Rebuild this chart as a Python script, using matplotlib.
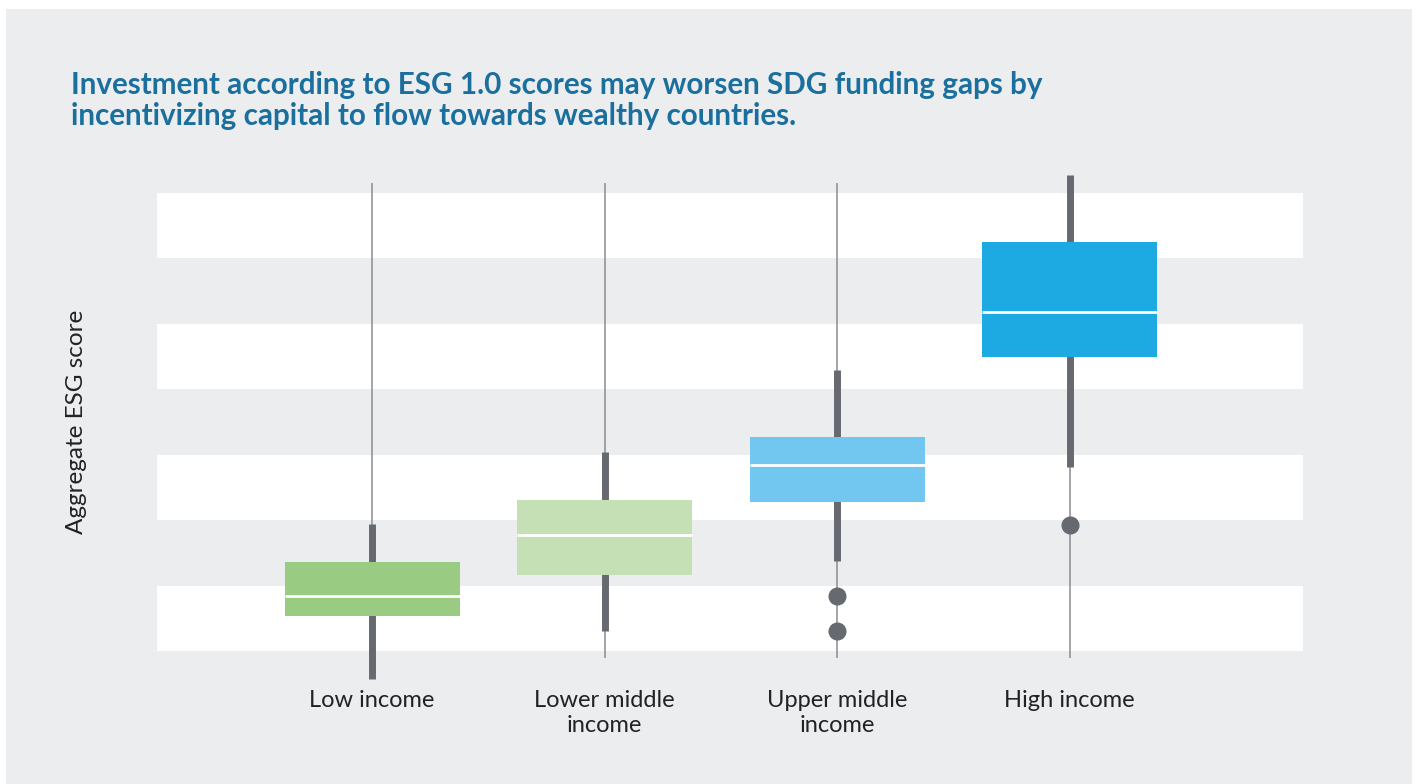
import matplotlib.pyplot as plt
from matplotlib.patches import Rectangle

# === Data (band units) ===
categories = ["Low income", "Lower middle\nincome", "Upper middle\nincome", "High income"]
q1 = [0.54, 1.16, 2.28, 4.49]
median = [0.84, 1.77, 2.84, 5.18]
q3 = [1.36, 2.31, 3.27, 6.25]
whisk_lo = [-0.43, 0.31, 1.38, 2.81]
whisk_hi = [1.94, 3.04, 4.29, 7.27]
range_lo = [-0.11, -0.11, -0.11, -0.11]
range_hi = [7.15, 7.15, 7.15, 7.15]
outlier_cat = [2, 2, 3]
outlier_val = [0.84, 0.31, 1.93]

box_colors = ["#99cc82", "#c5e0b4", "#72c7f0", "#1daae2"]
BG = "#ecedef"
DARK = "#666a70"
THIN = "#8a8d91"
TITLE_C = "#1a6f9d"

fig = plt.figure(figsize=(14.22, 7.84), dpi=100)
fig.patch.set_facecolor("white")
fig.patches.append(Rectangle((6 / 1422, 0), 1406 / 1422, 1 - 9 / 784,
                             transform=fig.transFigure, facecolor=BG,
                             edgecolor="none", zorder=-10))

ax = fig.add_axes([157 / 1422, 1 - 651 / 784, 1146 / 1422, 458 / 784])
ax.set_facecolor(BG)
ax.set_xlim(-0.925, 4.004)
ax.set_ylim(0, 7)

# alternating white bands
for b in range(0, 7, 2):
    ax.axhspan(b, b + 1, color="white", zorder=0, lw=0)

w = 0.753
for i in range(len(categories)):
    ax.plot([i, i], [range_lo[i], range_hi[i]], color=THIN, lw=1.1,
            zorder=2, clip_on=False, solid_capstyle="butt")
    ax.plot([i, i], [whisk_lo[i], whisk_hi[i]], color=DARK, lw=5,
            zorder=3, clip_on=False, solid_capstyle="butt")
    ax.add_patch(Rectangle((i - w / 2, q1[i]), w, q3[i] - q1[i],
                           facecolor=box_colors[i], edgecolor="none",
                           zorder=4, clip_on=False))
    ax.plot([i - w / 2, i + w / 2], [median[i], median[i]], color="white",
            lw=2, zorder=5, solid_capstyle="butt")

ax.plot(outlier_cat, outlier_val, "o", color=DARK, markersize=12,
        zorder=6, clip_on=False)

ax.set_xticks(range(len(categories)))
ax.set_xticklabels(categories, fontsize=17, color="#222222",
                   family="Lato", linespacing=1.24)
ax.tick_params(axis="x", length=0, pad=28)
ax.set_yticks([])
for s in ax.spines.values():
    s.set_visible(False)

ax.set_ylabel("Aggregate ESG score", fontsize=17.5, color="#222222", family="Lato")
ax.yaxis.set_label_coords(-0.061, 0.5)

fig.text(71 / 1422, 1 - 71 / 784,
         "Investment according to ESG 1.0 scores may worsen SDG funding gaps by\n"
         "incentivizing capital to flow towards wealthy countries.",
         fontsize=21.3, fontweight="bold", family="Lato", color=TITLE_C,
         va="top", ha="left", linespacing=1.11)

fig.savefig("out.png", dpi=100, facecolor=fig.get_facecolor())
